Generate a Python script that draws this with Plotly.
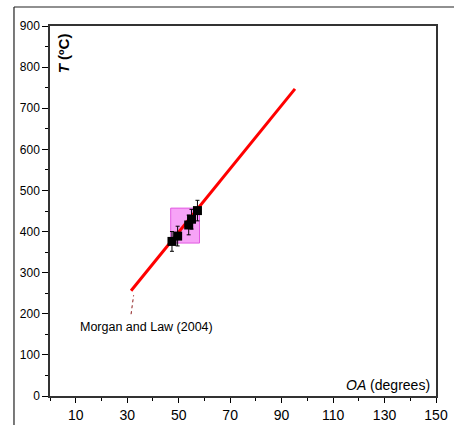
import plotly.graph_objects as go

# Data
line_x = [31.5, 95.2]
line_y = [256, 747]
pt_x = [47.4, 49.6, 53.9, 55.0, 57.3]
pt_y = [376, 389, 416, 430, 451]
pt_err = [24, 24, 24, 24, 25]
box_x = [46.9, 58.1]
box_y = [372, 457]
ref_x = [31.5, 32.5]
ref_y = [199, 245]
ref_label = "Morgan and Law (2004)"
x_ticks = [10, 30, 50, 70, 90, 110, 130, 150]
y_ticks = [0, 100, 200, 300, 400, 500, 600, 700, 800, 900]

FONT = "Liberation Sans, Arial, sans-serif"

fig = go.Figure()

fig.add_shape(type="rect", xref="x", yref="y",
              x0=box_x[0], x1=box_x[1], y0=box_y[0], y1=box_y[1],
              fillcolor="#f7a3f7", line=dict(color="#e25ae2", width=1),
              layer="below")

fig.add_trace(go.Scatter(x=line_x, y=line_y, mode="lines",
                         line=dict(color="#ff0000", width=3),
                         showlegend=False, hoverinfo="skip"))

fig.add_trace(go.Scatter(x=ref_x, y=ref_y, mode="lines",
                         line=dict(color="#8b1a1a", width=1, dash="dot"),
                         showlegend=False, hoverinfo="skip"))

fig.add_trace(go.Scatter(x=pt_x, y=pt_y, mode="markers",
                         marker=dict(symbol="square", size=9, color="black"),
                         error_y=dict(type="data", array=pt_err, color="black",
                                      thickness=1, width=2),
                         showlegend=False))

fig.add_annotation(x=37.6, y=168, xref="x", yref="y", text=ref_label,
                   xanchor="center", yanchor="middle",
                   showarrow=False, font=dict(family=FONT, size=12.5, color="black"))

fig.add_annotation(x=0.035, y=0.925, xref="paper", yref="paper",
                   text="<b><i>T</i> (ºC)</b>", textangle=-90, showarrow=False,
                   xanchor="center", yanchor="middle",
                   font=dict(family=FONT, size=15, color="black"))

fig.add_annotation(x=0.989, y=0.03, xref="paper", yref="paper",
                   text="<i>OA</i> (degrees)", xanchor="right", yanchor="middle",
                   showarrow=False,
                   font=dict(family=FONT, size=14, color="black"))

# outer frame
fig.add_shape(type="line", xref="paper", yref="paper",
              x0=-0.0933, x1=-0.0933, y0=1.0514, y1=-0.1,
              line=dict(color="#222", width=1.2))
fig.add_shape(type="line", xref="paper", yref="paper",
              x0=-0.0933, x1=1.1, y0=1.0514, y1=1.0514,
              line=dict(color="#222", width=1.2))

fig.update_xaxes(range=[0, 150], tickvals=x_ticks, ticktext=[str(v) for v in x_ticks],
                 ticks="outside", ticklen=5, tickwidth=1, tickcolor="black",
                 minor=dict(dtick=10, tick0=0, ticks="outside", ticklen=3, tickcolor="black"),
                 showline=True, linecolor="#333", linewidth=1.5, mirror=True,
                 showgrid=False, zeroline=False, automargin=False,
                 tickfont=dict(family=FONT, size=14, color="black"))
fig.update_yaxes(range=[0, 900], tickvals=y_ticks,
                 ticks="outside", ticklen=6, tickwidth=1, tickcolor="black",
                 minor=dict(dtick=50, tick0=0, ticks="outside", ticklen=3, tickcolor="black"),
                 showline=True, linecolor="#333", linewidth=1.5, mirror=True,
                 showgrid=False, zeroline=False, automargin=False,
                 tickfont=dict(family=FONT, size=12, color="black"))

fig.update_layout(width=454, height=425,
                  margin=dict(l=50, r=18, t=26, b=29, autoexpand=False),
                  paper_bgcolor="white", plot_bgcolor="white",
                  font=dict(family=FONT))

fig.write_html("out.html", config={"displayModeBar": False},
               post_script="document.body.style.margin='0';document.body.style.overflow='hidden';")
